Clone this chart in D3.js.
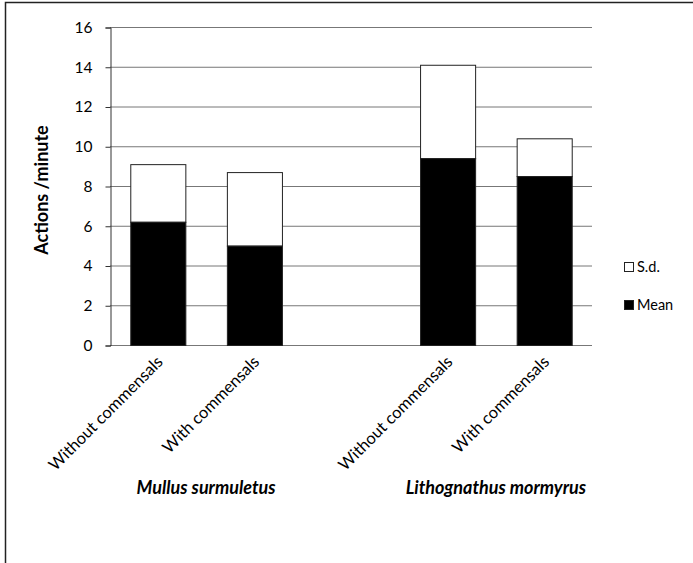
<!DOCTYPE html>
<html lang="en">
  <head>
    <meta charset="utf-8">
    <title>Actions per minute</title>
    <script src="https://d3js.org/d3.v7.min.js"></script>
    <style>
      body { margin: 0; background: #fff; }
      text { font-family: Lato, "Open Sans", sans-serif; fill: #000; }
    </style>
  </head>

  <body>

  <script>

// chart data
  var categories = ["M_without", "M_with", "gap", "L_without", "L_with"];
  var catLabels  = ["Without commensals", "With commensals", "", "Without commensals", "With commensals"];
  var meanVals   = [6.2, 5.0, null, 9.4, 8.5];
  var sdVals     = [2.9, 3.7, null, 4.7, 1.9];
  var yTicks     = [0, 2, 4, 6, 8, 10, 12, 14, 16];
  var groups     = ["Mullus surmuletus", "Lithognathus mormyrus"];
  var groupCats  = [["M_without", "M_with"], ["L_without", "L_with"]];

  var w = 693;
  var h = 563;
  var plotLeft = 110, plotRight = 592, plotTop = 27, plotBottom = 345;

  var svg = d3.select("body")
    .append("svg")
      .attr("width", w)
      .attr("height", h);

  // frame (left + top only, like the scan)
  svg.append("path")
      .attr("d", "M5.5," + h + "V2.5H" + w)
      .attr("fill", "none")
      .attr("stroke", "#222")
      .attr("stroke-width", 1.5);

  var xScale = d3.scaleBand()
    .domain(categories)
    .range([plotLeft, plotRight])
    .paddingInner(0.43)
    .paddingOuter(0.21);

  var yScale = d3.scaleLinear()
    .domain([0, 16])
    .range([plotBottom, plotTop]);

  // gridlines
  svg.append("g")
    .selectAll("line")
    .data(yTicks)
    .enter().append("line")
      .attr("x1", plotLeft)
      .attr("x2", plotRight)
      .attr("y1", d => yScale(d) + 0.5)
      .attr("y2", d => yScale(d) + 0.5)
      .attr("stroke", "#777")
      .attr("stroke-width", 1);

  // y axis
  var yAxis = svg.append("g")
      .attr("transform", "translate(" + (plotLeft + 0.5) + ",0.5)")
      .call(d3.axisLeft(yScale).tickValues(yTicks).tickSize(5).tickPadding(13));
  yAxis.select(".domain").attr("stroke", "#333");
  yAxis.selectAll(".tick line").attr("stroke", "#333");
  yAxis.selectAll("text")
      .attr("font-size", 15.5)
      .attr("font-family", "Lato, 'Open Sans', sans-serif");

  // stacked bars
  var barData = categories.map((c, i) => ({cat: c, mean: meanVals[i], sd: sdVals[i]}))
    .filter(d => d.mean !== null);

  var bars = svg.append("g").selectAll("g")
    .data(barData)
    .enter().append("g");

  bars.append("rect")
      .attr("x", d => xScale(d.cat) + 0.5)
      .attr("y", d => yScale(d.mean + d.sd) + 0.5)
      .attr("width", xScale.bandwidth())
      .attr("height", d => yScale(d.mean) - yScale(d.mean + d.sd))
      .attr("fill", "#fff")
      .attr("stroke", "#222")
      .attr("stroke-width", 1);

  bars.append("rect")
      .attr("x", d => xScale(d.cat) + 0.5)
      .attr("y", d => yScale(d.mean) + 0.5)
      .attr("width", xScale.bandwidth())
      .attr("height", d => yScale(0) - yScale(d.mean))
      .attr("fill", "#000")
      .attr("stroke", "#222")
      .attr("stroke-width", 1);

  // category labels, rotated
  svg.append("g").selectAll("text")
    .data(categories.map((c, i) => ({cat: c, label: catLabels[i]})).filter(d => d.label))
    .enter().append("text")
      .attr("transform", d => "translate(" + (xScale(d.cat) + xScale.bandwidth() / 2 + 6) + "," + (plotBottom + 18) + ") rotate(-45)")
      .attr("text-anchor", "end")
      .attr("font-size", 16.5)
      .text(d => d.label);

  // species labels
  svg.append("g").selectAll("text")
    .data(groups)
    .enter().append("text")
      .attr("x", (d, i) => (xScale(groupCats[i][0]) + xScale(groupCats[i][1]) + xScale.bandwidth()) / 2)
      .attr("y", 494)
      .attr("text-anchor", "middle")
      .attr("font-size", 18)
      .attr("font-weight", "bold")
      .attr("font-style", "italic")
      .text(d => d);

  // y title
  svg.append("text")
      .attr("transform", "translate(48,190) rotate(-90)")
      .attr("text-anchor", "middle")
      .attr("font-size", 18)
      .attr("font-weight", "bold")
      .text("Actions /minute");

  // legend
  var legendItems = [{name: "S.d.", fill: "#fff"}, {name: "Mean", fill: "#000"}];
  var legend = svg.append("g").selectAll("g")
    .data(legendItems)
    .enter().append("g")
      .attr("transform", (d, i) => "translate(624," + (262 + i * 38) + ")");

  legend.append("rect")
      .attr("x", 0.5)
      .attr("y", 0.5)
      .attr("width", 9)
      .attr("height", 9)
      .attr("fill", d => d.fill)
      .attr("stroke", "#222");

  legend.append("text")
      .attr("x", 13)
      .attr("y", 10)
      .attr("font-size", 14.5)
      .text(d => d.name);

  </script>

  </body>

</html>
